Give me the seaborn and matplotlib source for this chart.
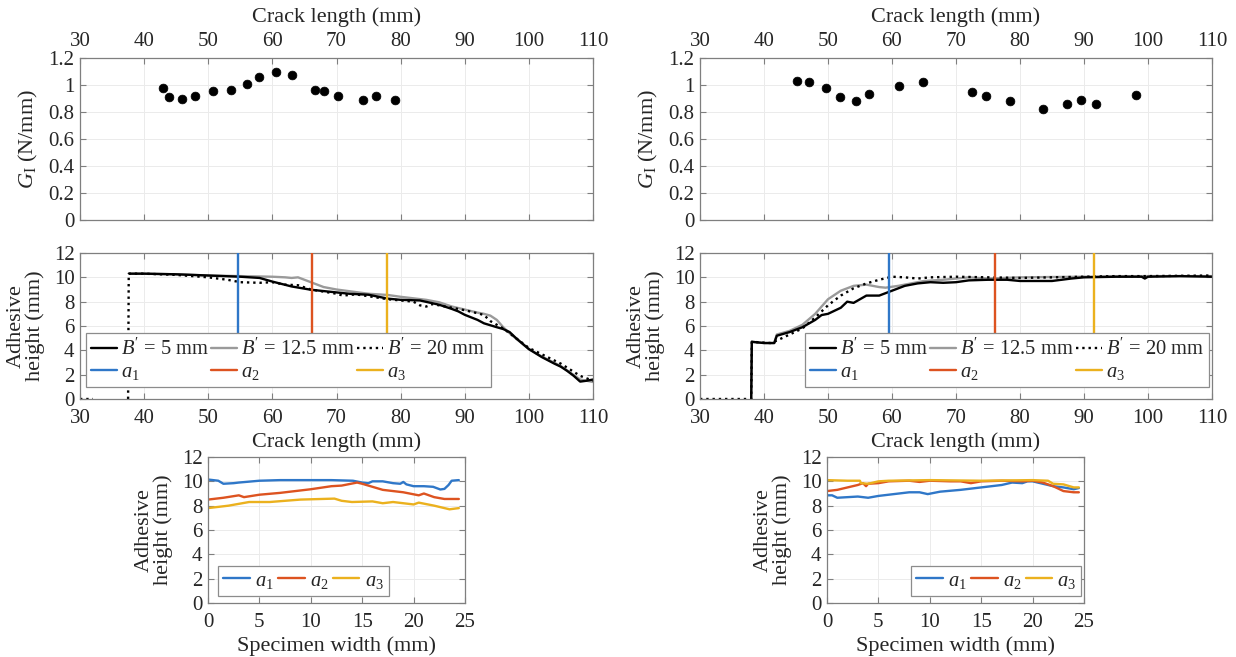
import numpy as np
import pandas as pd
import matplotlib
matplotlib.use('Agg')
import matplotlib.pyplot as plt
import seaborn as sns
from matplotlib.lines import Line2D
from matplotlib.ticker import FuncFormatter

sns.set_theme(style='white')
plt.rcParams['font.family'] = ['Liberation Serif', 'DejaVu Serif']
plt.rcParams['mathtext.fontset'] = 'custom'
plt.rcParams['mathtext.rm'] = 'Liberation Serif'
plt.rcParams['mathtext.it'] = 'Liberation Serif:italic'
plt.rcParams['mathtext.bf'] = 'Liberation Serif:bold'
TXT = '#262626'
plt.rcParams['text.color'] = TXT
plt.rcParams['axes.labelcolor'] = TXT
plt.rcParams['xtick.color'] = TXT
plt.rcParams['ytick.color'] = TXT

# ---------------- data ----------------
# Top panels: G_I vs crack length
gL_x = [42.95, 43.9, 45.9, 48.0, 50.8, 53.6, 56.1, 57.9, 60.5, 63.1, 66.6, 68.1, 70.2, 74.1, 76.2, 79.2]
gL_y = [0.975, 0.908, 0.90, 0.916, 0.953, 0.96, 1.01, 1.06, 1.097, 1.077, 0.965, 0.953, 0.916, 0.889, 0.921, 0.886]
gR_x = [45.2, 47.1, 49.7, 51.9, 54.4, 56.4, 61.1, 64.8, 72.5, 74.7, 78.5, 83.6, 87.4, 89.6, 91.9, 98.2]
gR_y = [1.032, 1.022, 0.98, 0.913, 0.884, 0.933, 0.99, 1.025, 0.95, 0.918, 0.884, 0.824, 0.856, 0.891, 0.859, 0.926]

# Middle-left: adhesive height along crack length
mL5_x = [37.7, 40, 45, 50, 55, 58, 60, 63, 66, 70, 72, 75, 78, 80, 83, 86, 88, 89, 90, 92, 93, 95, 96, 97, 98, 100, 102, 104, 105, 106, 107, 108, 109, 110]
mL5_y = [10.3, 10.3, 10.25, 10.15, 10.05, 9.95, 9.65, 9.25, 8.98, 8.76, 8.65, 8.57, 8.25, 8.15, 8.1, 7.75, 7.4, 7.2, 6.92, 6.5, 6.22, 5.9, 5.75, 5.5, 5.0, 4.1, 3.45, 2.9, 2.65, 2.3, 1.9, 1.43, 1.5, 1.6]
mL12_x = [37.7, 40, 45, 50, 55, 60, 62, 63, 64, 65, 66, 68, 70, 75, 78, 80, 84, 86, 88, 90, 92, 93, 94, 95, 96, 97, 100, 102, 105, 108, 110]
mL12_y = [10.3, 10.3, 10.25, 10.15, 10.1, 10.05, 10.0, 9.95, 10.0, 9.8, 9.6, 9.2, 9.0, 8.65, 8.55, 8.4, 8.15, 7.95, 7.6, 7.35, 7.1, 7.0, 6.85, 6.5, 5.9, 5.4, 4.1, 3.5, 2.7, 1.6, 1.4]
mL20_pre_x = [30, 32]
mL20_pre_y = [0.0, 0.0]
mL20_x = [37.5, 37.6, 40, 45, 50, 53, 55, 58, 60, 62, 64, 66, 70, 71, 73, 75, 78, 80, 82, 83, 84, 85, 88, 90, 92, 93, 94, 96, 100, 105, 108, 110]
mL20_y = [0.0, 10.3, 10.3, 10.2, 10.0, 9.8, 9.6, 9.55, 9.6, 9.4, 9.35, 9.0, 8.65, 8.5, 8.6, 8.45, 8.2, 8.1, 8.0, 7.7, 7.6, 7.8, 7.5, 7.3, 7.05, 6.9, 6.4, 5.8, 4.2, 2.9, 1.9, 1.5]
aL = [54.6, 66.2, 77.8]

# Middle-right
mR5_x = [38, 38.1, 40, 41.6, 42, 44, 46, 48, 49, 50, 52, 53, 54, 55, 56, 58, 60, 62, 64, 66, 68, 70, 72, 75, 78, 80, 85, 88, 90, 95, 99, 99.5, 100, 105, 110]
mR5_y = [0.0, 4.7, 4.6, 4.6, 5.2, 5.5, 5.9, 6.5, 6.9, 7.0, 7.5, 8.0, 7.9, 8.2, 8.5, 8.5, 8.9, 9.3, 9.5, 9.6, 9.55, 9.6, 9.75, 9.8, 9.8, 9.7, 9.7, 9.9, 10.0, 10.05, 10.05, 9.9, 10.05, 10.1, 10.05]
mR12_x = [38, 38.1, 40, 41.6, 42, 44, 46, 48, 50, 52, 54, 56, 58, 59, 61, 63, 65, 68, 70, 72, 75, 80, 90, 100, 110]
mR12_y = [0.0, 4.7, 4.6, 4.6, 5.3, 5.6, 6.1, 7.0, 8.2, 8.9, 9.3, 9.4, 9.2, 9.15, 9.3, 9.5, 9.7, 9.8, 9.9, 10.0, 9.9, 10.0, 10.05, 10.1, 10.1]
mR20_x = [30, 38, 38.1, 41, 42, 44, 46, 48, 50, 52, 54, 56, 58, 60, 62, 64, 66, 70, 75, 80, 85, 90, 95, 100, 110]
mR20_y = [0.0, 0.0, 4.7, 4.6, 4.8, 5.3, 5.8, 6.7, 7.7, 8.5, 9.1, 9.5, 9.8, 10.05, 10.0, 9.9, 10.0, 10.05, 10.0, 9.95, 10.0, 10.05, 10.1, 10.1, 10.15]
aR = [59.5, 76.1, 91.6]

# Bottom-left: adhesive height across specimen width
bL1_x = [0, 1.0, 1.5, 2.5, 3, 5, 7, 10, 12, 14.1, 15, 15.6, 16, 17, 18, 18.7, 19, 19.3, 20, 21, 21.9, 22.6, 23.0, 23.4, 23.7, 24.4]
bL1_y = [10.15, 10.05, 9.8, 9.85, 9.9, 10.05, 10.1, 10.1, 10.1, 10.05, 9.9, 9.85, 10.0, 10.0, 9.85, 9.8, 9.95, 9.75, 9.6, 9.6, 9.55, 9.33, 9.38, 9.7, 10.05, 10.1]
bL2_x = [0, 1.5, 3, 3.5, 5, 7, 10, 12, 13, 14.5, 15, 17, 19, 20.5, 21, 22, 23, 24.4]
bL2_y = [8.5, 8.65, 8.85, 8.7, 8.9, 9.05, 9.35, 9.6, 9.65, 9.9, 9.8, 9.3, 9.1, 8.85, 9.0, 8.7, 8.55, 8.55]
bL3_x = [0, 2, 4, 6, 9, 12.3, 13, 14, 16, 17, 18, 20, 20.5, 22, 23.5, 24.4]
bL3_y = [7.8, 8.0, 8.3, 8.3, 8.5, 8.58, 8.4, 8.3, 8.35, 8.2, 8.3, 8.1, 8.25, 8.0, 7.7, 7.8]

# Bottom-right
bR1_x = [0, 0.5, 1, 2, 3, 4, 5, 7, 8, 9, 9.8, 11, 13, 15, 16, 17, 18, 19, 19.5, 20, 21, 22, 23, 24, 24.5]
bR1_y = [8.85, 8.85, 8.65, 8.7, 8.75, 8.65, 8.8, 9.0, 9.1, 9.1, 8.95, 9.15, 9.3, 9.5, 9.6, 9.7, 9.9, 9.85, 10.0, 10.0, 9.8, 9.6, 9.5, 9.35, 9.45]
bR2_x = [0, 1, 2, 3, 3.5, 3.8, 4, 5, 6, 8, 9, 10, 12, 13, 14, 15, 17, 19, 20, 21, 22, 23, 24, 24.5]
bR2_y = [9.2, 9.3, 9.5, 9.7, 9.85, 9.6, 9.8, 9.85, 10.0, 10.05, 9.95, 10.05, 10.0, 10.0, 9.85, 10.0, 10.05, 10.0, 10.05, 9.9, 9.6, 9.2, 9.1, 9.1]
bR3_x = [0, 2, 3.2, 3.3, 4, 5, 6, 10, 15, 20, 21.5, 22, 23, 24, 24.5]
bR3_y = [10.1, 10.05, 10.05, 9.85, 9.8, 10.0, 10.05, 10.1, 10.05, 10.1, 10.05, 9.8, 9.75, 9.5, 9.5]

crack_ticks = [30, 40, 50, 60, 70, 80, 90, 100, 110]
g_ticks = [0, 0.2, 0.4, 0.6, 0.8, 1.0, 1.2]
h_ticks = [0, 2, 4, 6, 8, 10, 12]
w_ticks = [0, 5, 10, 15, 20, 25]

B_labels = ["$B'$ = 5 mm", "$B'$ = 12.5 mm", "$B'$ = 20 mm"]
a_labels = ["$a_1$", "$a_2$", "$a_3$"]

# ---------------- style ----------------
C_BLUE = '#2f77c8'
C_RED = '#dd5320'
C_YEL = '#ebb11e'
A_COLORS = [C_BLUE, C_RED, C_YEL]
C_GRAY = '#9a9a9a'
SPINE = '#7f7f7f'
GRID = '#ebebeb'
FS_TICK = 15
FS_LAB = 16
FS_LEG = 14.8
LW = 1.7

W, H = 1236, 657
fig = plt.figure(figsize=(W / 100, H / 100), dpi=100)


def px_axes(x0, y0, x1, y1):
    return fig.add_axes([x0 / W, 1 - y1 / H, (x1 - x0) / W, (y1 - y0) / H])


def style(ax, xt, yt):
    ax.set_xticks(xt)
    ax.set_yticks(yt)
    ax.set_xlim(xt[0], xt[-1])
    ax.set_ylim(yt[0], yt[-1])
    for s in ax.spines.values():
        s.set_color(SPINE)
        s.set_linewidth(0.9)
    ax.tick_params(direction='in', length=4, width=0.8, color=SPINE,
                   top=True, bottom=True, left=True, right=True,
                   labelsize=FS_TICK)
    ax.tick_params(axis='x', pad=7)
    ax.tick_params(axis='y', pad=4)
    ax.grid(True, color=GRID, linewidth=0.7)
    ax.set_axisbelow(True)
    f = FuncFormatter(lambda v, p: f'{v:g}')
    ax.xaxis.set_major_formatter(f)
    ax.yaxis.set_major_formatter(f)


def line(ax, x, y, **kw):
    sns.lineplot(x=x, y=y, ax=ax, sort=False, estimator=None, legend=False, **kw)


def top_panel(ax, gx, gy):
    style(ax, crack_ticks, g_ticks)
    sns.scatterplot(x=gx, y=gy, ax=ax, color='black', s=40, edgecolor='black',
                    linewidth=0.5, legend=False, zorder=3)
    ax.xaxis.tick_top()
    ax.xaxis.set_label_position('top')
    ax.tick_params(top=True, bottom=True, labeltop=True, labelbottom=False)
    ax.tick_params(axis='x', pad=5)
    ax.set_xlabel('Crack length (mm)', fontsize=FS_LAB, labelpad=7)
    ax.set_ylabel('$G_\\mathrm{I}$ (N/mm)', fontsize=FS_LAB, labelpad=6)


def legend_style(leg):
    leg.get_frame().set_linewidth(0.9)
    leg.set_zorder(10)


def mid_panel(ax, s5, s12, s20, avals, loc, anchor, pre=None):
    style(ax, crack_ticks, h_ticks)
    if pre is not None:
        line(ax, pre[0], pre[1], color='black', linewidth=LW, linestyle=':')
    line(ax, s12[0], s12[1], color=C_GRAY, linewidth=LW)
    line(ax, s5[0], s5[1], color='black', linewidth=LW)
    line(ax, s20[0], s20[1], color='black', linewidth=LW, linestyle=':')
    for a, c in zip(avals, A_COLORS):
        ax.vlines(a, 5.0, 12, color=c, linewidth=LW, zorder=4)
    ax.set_xlabel('Crack length (mm)', fontsize=FS_LAB, labelpad=3)
    ax.set_ylabel('Adhesive\nheight (mm)', fontsize=FS_LAB, labelpad=6, linespacing=1.0)
    hB = [Line2D([], [], color='black', lw=LW),
          Line2D([], [], color=C_GRAY, lw=LW),
          Line2D([], [], color='black', lw=LW, ls=':')]
    hA = [Line2D([], [], color=c, lw=LW) for c in A_COLORS]
    handles = [hB[0], hA[0], hB[1], hA[1], hB[2], hA[2]]
    labels = [B_labels[0], a_labels[0], B_labels[1], a_labels[1], B_labels[2], a_labels[2]]
    leg = ax.legend(handles, labels, ncol=3, loc=loc, bbox_to_anchor=anchor, fontsize=FS_LEG,
                    frameon=True, fancybox=False, framealpha=1, edgecolor='#8c8c8c',
                    handlelength=1.25, handletextpad=0.2, columnspacing=0.1,
                    labelspacing=0.15, borderpad=0.25, borderaxespad=0.0)
    legend_style(leg)


def bot_panel(ax, s1, s2, s3, loc, anchor):
    style(ax, w_ticks, h_ticks)
    for s, c in zip([s1, s2, s3], A_COLORS):
        line(ax, s[0], s[1], color=c, linewidth=LW)
    ax.set_xlabel('Specimen width (mm)', fontsize=FS_LAB, labelpad=3)
    ax.set_ylabel('Adhesive\nheight (mm)', fontsize=FS_LAB, labelpad=6, linespacing=1.0)
    hA = [Line2D([], [], color=c, lw=LW) for c in A_COLORS]
    leg = ax.legend(hA, a_labels, ncol=3, loc=loc, bbox_to_anchor=anchor, fontsize=FS_LEG,
                    frameon=True, fancybox=False, framealpha=1, edgecolor='#8c8c8c',
                    handlelength=1.3, handletextpad=0.25, columnspacing=0.2,
                    borderpad=0.25, borderaxespad=0.0)
    legend_style(leg)


axTL = px_axes(80, 58, 593, 220)
axTR = px_axes(700, 58, 1212, 220)
axML = px_axes(80, 253, 593, 399)
axMR = px_axes(700, 253, 1212, 399)
axBL = px_axes(208, 457, 465, 603)
axBR = px_axes(827, 457, 1084, 603)

top_panel(axTL, gL_x, gL_y)
top_panel(axTR, gR_x, gR_y)
mid_panel(axML, (mL5_x, mL5_y), (mL12_x, mL12_y), (mL20_x, mL20_y), aL,
          'lower left', (0.012, 0.08), pre=(mL20_pre_x, mL20_pre_y))
mid_panel(axMR, (mR5_x, mR5_y), (mR12_x, mR12_y), (mR20_x, mR20_y), aR,
          'lower right', (0.995, 0.08))
bot_panel(axBL, (bL1_x, bL1_y), (bL2_x, bL2_y), (bL3_x, bL3_y), 'lower left', (0.04, 0.05))
bot_panel(axBR, (bR1_x, bR1_y), (bR2_x, bR2_y), (bR3_x, bR3_y), 'lower right', (0.99, 0.05))

fig.savefig('out.png', dpi=100, facecolor='white')
